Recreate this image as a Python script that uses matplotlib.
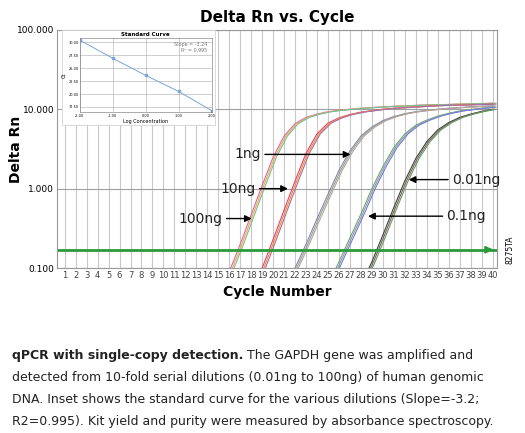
import numpy as np
import matplotlib
matplotlib.use('Agg')
import matplotlib.pyplot as plt
from matplotlib.patches import Rectangle

# Amplification curves, Delta Rn per cycle
dilutions = ["100ng", "10ng", "1ng", "0.1ng", "0.01ng"]
start_cycles = [16, 19, 22, 25, 28]
curves = [
    [0.09, 0.2, 0.47, 1.1, 2.5, 4.6, 6.6, 7.9, 8.7, 9.3, 9.7, 10.0, 10.3, 10.5, 10.7,
     10.9, 11.0, 11.2, 11.3, 11.4, 11.5, 11.6, 11.7, 11.8, 11.9],
    [0.1, 0.23, 0.54, 1.25, 2.8, 4.9, 6.7, 7.8, 8.6, 9.2, 9.6, 10.0, 10.3, 10.5, 10.7,
     10.9, 11.1, 11.2, 11.3, 11.4, 11.5, 11.6],
    [0.1, 0.2, 0.42, 0.85, 1.7, 3.0, 4.6, 6.0, 7.2, 8.1, 8.8, 9.3, 9.7, 10.0, 10.3,
     10.5, 10.7, 10.9, 11.0],
    [0.06, 0.12, 0.24, 0.48, 1.0, 1.9, 3.3, 4.9, 6.3, 7.3, 8.2, 8.9, 9.5, 9.9, 10.3, 10.6],
    [0.06, 0.12, 0.26, 0.58, 1.25, 2.4, 3.9, 5.5, 6.8, 7.9, 8.7, 9.4, 10.0],
]
replicate_shift = [0.0, 0.15, 0.3]
replicate_colors = [["#e060c0", "#f0b030", "#70c0a0"],
                    ["#e04080", "#f09020", "#a070b0"],
                    ["#9080c0", "#80b080", "#c0a0a0"],
                    ["#60b060", "#a090c0", "#7080d0"],
                    ["#404040", "#806060", "#60a060"]]
threshold = 0.17

# arrows: label, text position (cycle, Rn), arrow tip (cycle, Rn)
annotations = [
    ("1ng", (19.0, 2.7), (27.3, 2.7)),
    ("10ng", (18.5, 1.0), (21.6, 1.0)),
    ("100ng", (15.5, 0.42), (18.3, 0.42)),
    ("0.1ng", (35.7, 0.45), (28.4, 0.45)),
    ("0.01ng", (36.2, 1.3), (32.1, 1.3)),
]

# standard curve inset
log_conc = [-2, -1, 0, 1, 2]
ct_values = [30.4, 26.9, 23.6, 20.5, 16.8]

fig = plt.figure(figsize=(5.25, 4.33), dpi=100)
ax = fig.add_axes([0.1086, 0.381, 0.838, 0.55])
ax.set_yscale('log')
ax.set_ylim(0.1, 100)
ax.set_xlim(0.3, 40.4)
ax.set_xticks(range(1, 41))
ax.set_xticklabels([str(i) for i in range(1, 41)], fontsize=6, color='#444444')
ax.set_yticks([0.1, 1, 10, 100])
ax.set_yticklabels(["0.100", "1.000", "10.000", "100.000"], fontsize=6.5)
ax.minorticks_off()
ax.tick_params(length=0, pad=2)
ax.grid(axis='x', color='#c8c8c8', lw=0.8)
ax.grid(axis='y', color='#a0a0a0', lw=0.8)
for s in ax.spines.values():
    s.set_color('#999999')

for vals, start, cols in zip(curves, start_cycles, replicate_colors):
    x = np.arange(start, start + len(vals))
    for sh, c in zip(replicate_shift, cols):
        ax.plot(x + sh, vals, color=c, lw=0.8)

ax.axhline(threshold, color='#2a9a3a', lw=2)
ax.annotate('', xy=(40.3, threshold), xytext=(39.5, threshold),
            arrowprops=dict(arrowstyle='-|>', color='#2a9a3a', lw=1.5))

for label, txt, tip in annotations:
    ax.annotate('', xy=tip, xytext=txt,
                arrowprops=dict(arrowstyle='-|>', color='black', lw=1, mutation_scale=10))
    ha = 'right' if txt[0] < tip[0] else 'left'
    ax.text(txt[0] + (-0.1 if ha == 'right' else 0.1), txt[1], label, ha=ha, va='center',
            fontsize=10, color='#222222')

ax.set_title("Delta Rn vs. Cycle", fontsize=11, fontweight='bold', pad=6)
ax.set_xlabel("Cycle Number", fontsize=10, fontweight='bold', labelpad=4)
fig.text(0.03, 0.656, "Delta Rn", rotation=90, fontsize=10, fontweight='bold',
         ha='center', va='center')
fig.text(0.972, 0.39, "8275TA", rotation=90, fontsize=5.5, ha='center', va='bottom')

# inset with white backing
fig.patches.append(Rectangle((62 / 525, 1 - 125 / 433), 153 / 525, 95 / 433,
                             transform=fig.transFigure, facecolor='white',
                             edgecolor='#cccccc', lw=0.5, zorder=5))
ins = fig.add_axes([0.152, 0.741, 0.251, 0.171], zorder=6)
ins.patch.set_facecolor('white')
ins.plot(log_conc, ct_values, color='#7aa6d8', lw=0.7, marker='s', ms=2)
ins.set_xlim(-2, 2)
ins.set_ylim(16.5, 30.8)
ins.set_xticks(log_conc)
ins.set_xticklabels(["-2.00", "-1.00", "0.00", "1.00", "2.00"], fontsize=2.5)
ins.set_yticks([17.5, 20.0, 22.5, 25.0, 27.5, 30.0])
ins.set_yticklabels(["17.50", "20.00", "22.50", "25.00", "27.50", "30.00"], fontsize=2.5)
ins.tick_params(length=0, pad=1)
ins.grid(color='#aaaaaa', lw=0.4)
ins.set_title("Standard Curve", fontsize=4, fontweight='bold', pad=1.5)
ins.set_xlabel("Log Concentration", fontsize=3.5, labelpad=1)
ins.set_ylabel("Ct", fontsize=3.5, labelpad=1)
ins.text(0.97, 0.95, "Slope = -3.24\nR\u00b2 = 0.995", transform=ins.transAxes,
         ha='right', va='top', fontsize=3.5, color='#777777')
for s in ins.spines.values():
    s.set_color('#888888')
    s.set_linewidth(0.5)

# caption
fs = 9
y0 = 1 - 355 / 433
fig.canvas.draw()
r = fig.canvas.get_renderer()
b = fig.text(0.023, y0, "qPCR with single-copy detection.", fontsize=fs, fontweight='bold',
             va='center', color='#222222')
w = b.get_window_extent(r).width / fig.bbox.width
fig.text(0.023 + w, y0, " The GAPDH gene was amplified and", fontsize=fs, va='center', color='#222222')
rest = ["detected from 10-fold serial dilutions (0.01ng to 100ng) of human genomic",
        "DNA. Inset shows the standard curve for the various dilutions (Slope=-3.2;",
        "R2=0.995). Kit yield and purity were measured by absorbance spectroscopy."]
for i, line in enumerate(rest):
    fig.text(0.023, y0 - (i + 1) * 22 / 433, line, fontsize=fs, va='center', color='#222222')

fig.savefig("out.png", dpi=100)
